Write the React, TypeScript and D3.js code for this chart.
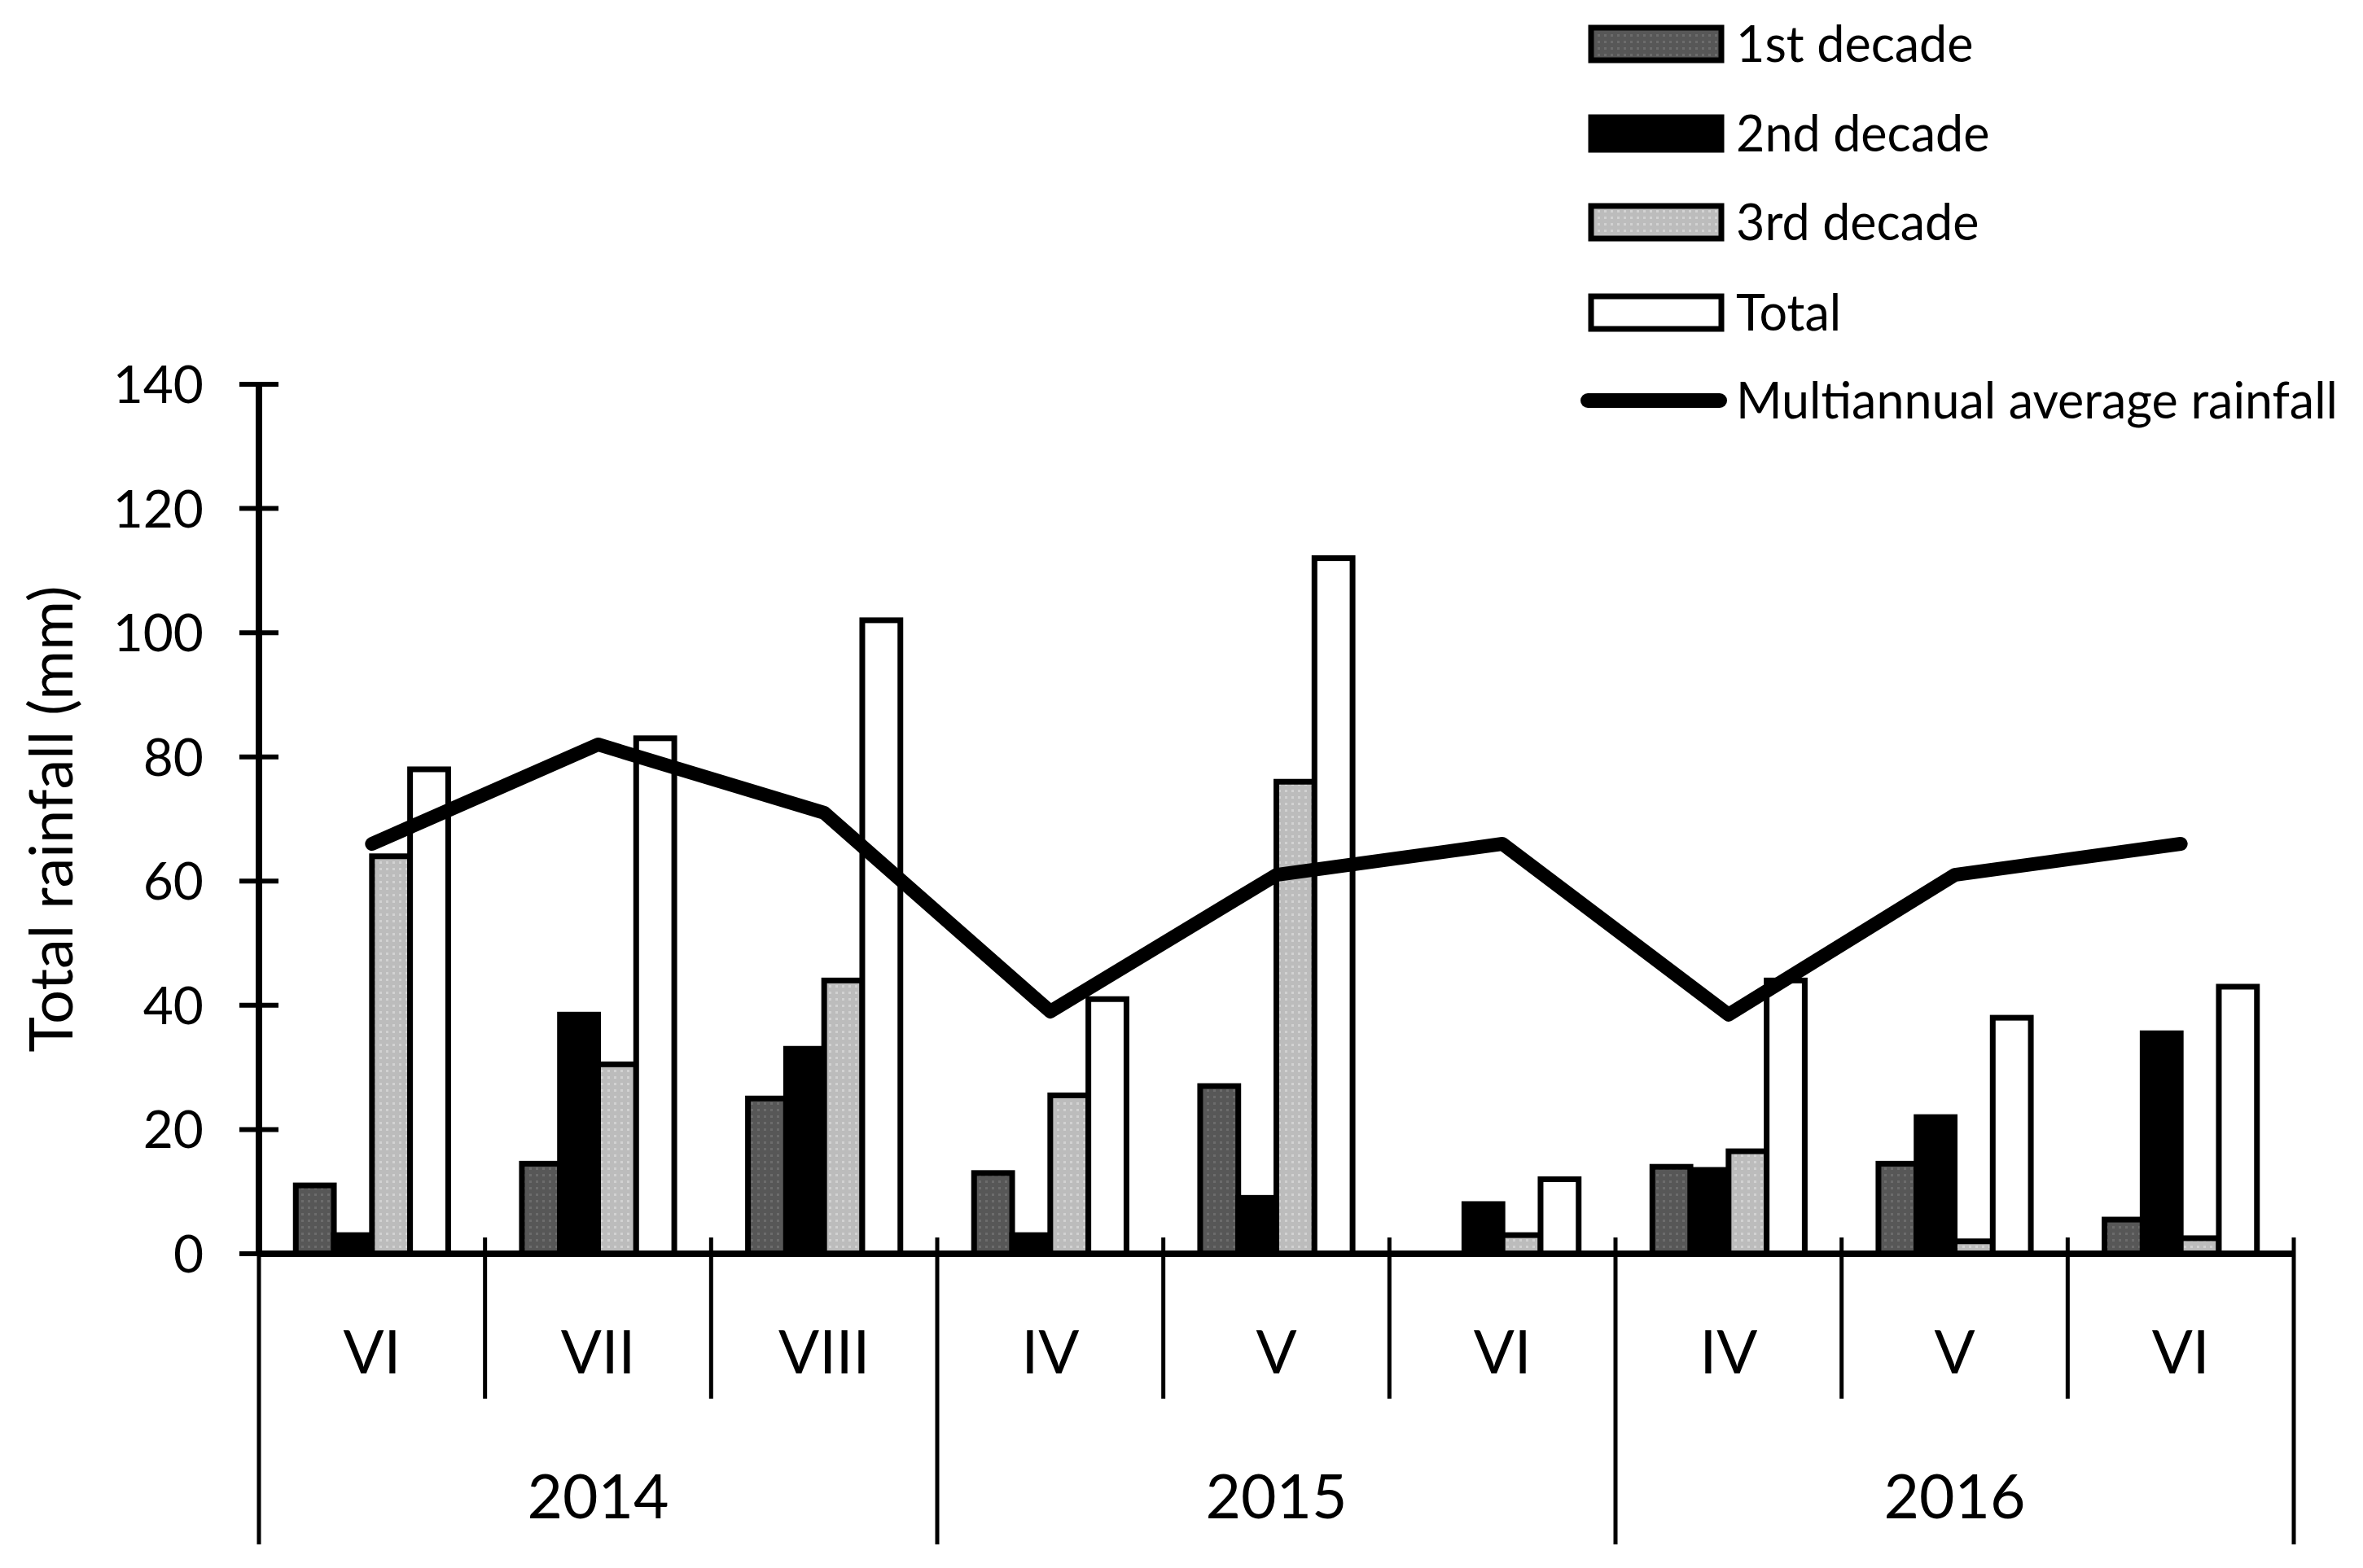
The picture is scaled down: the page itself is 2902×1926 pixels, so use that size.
import * as d3 from "d3";
import { useEffect, useRef } from "react";

// months shown on the category axis, grouped by year
const months = ["VI", "VII", "VIII", "IV", "V", "VI", "IV", "V", "VI"];
const years = ["2014", "2015", "2016"];

// rainfall (mm) per decade of the month
const firstDecade = [11, 14.5, 25, 13, 27, 0, 14, 14.5, 5.5];
const secondDecade = [3, 38.5, 33, 3, 9, 8, 13.5, 22, 35.5];
const thirdDecade = [64, 30.5, 44, 25.5, 76, 3, 16.5, 2, 2.5];
const totals = [78, 83, 102, 41, 112, 12, 44, 38, 43];
const multiannualAverage = [66, 82, 71, 39, 61, 66, 38.5, 61, 66];

const yTicks = [0, 20, 40, 60, 80, 100, 120, 140];
const seriesNames = ["1st decade", "2nd decade", "3rd decade", "Total"];
const lineName = "Multiannual average rainfall";

const FONT = "Lato, 'Open Sans', sans-serif";

const App = () => {
  const ref = useRef<SVGSVGElement | null>(null);

  useEffect(() => {
    const width = 2902;
    const height = 1926;
    const left = 318;
    const right = 2817;
    const zeroY = 1540;
    const topY = 472;

    const svg = d3.select(ref.current);
    svg.selectAll("*").remove();
    svg.attr("width", width).attr("height", height);

    // dotted fills like the original
    const defs = svg.append("defs");
    const addPattern = (id: string, base: string, dot: string) => {
      const p = defs
        .append("pattern")
        .attr("id", id)
        .attr("width", 8)
        .attr("height", 8)
        .attr("patternUnits", "userSpaceOnUse");
      p.append("rect").attr("width", 8).attr("height", 8).attr("fill", base);
      p.append("rect").attr("x", 2).attr("y", 2).attr("width", 3).attr("height", 3).attr("fill", dot);
    };
    addPattern("p1", "#575757", "#6c6c6c");
    addPattern("p3", "#bcbcbc", "#d2d2d2");

    const fills = ["url(#p1)", "#000000", "url(#p3)", "#ffffff"];
    const values = [firstDecade, secondDecade, thirdDecade, totals];

    const x = d3
      .scaleBand<number>()
      .domain(d3.range(months.length))
      .range([left, right])
      .padding(0);
    const bw = x.bandwidth();

    const x1 = d3
      .scaleBand<string>()
      .domain(seriesNames)
      .range([bw * 0.163, bw * 0.837])
      .padding(0);

    const y = d3.scaleLinear().domain([0, 140]).range([zeroY, topY]);

    // bars
    seriesNames.forEach((name, s) => {
      svg
        .append("g")
        .selectAll("rect")
        .data(values[s].map((v, i) => ({ v, i })).filter((d) => d.v > 0))
        .enter()
        .append("rect")
        .attr("x", (d) => (x(d.i) || 0) + (x1(name) || 0))
        .attr("y", (d) => y(d.v))
        .attr("width", x1.bandwidth())
        .attr("height", (d) => zeroY - y(d.v))
        .attr("fill", fills[s])
        .attr("stroke", "#000")
        .attr("stroke-width", 7);
    });

    // y axis
    svg
      .append("line")
      .attr("x1", left)
      .attr("x2", left)
      .attr("y1", y(140))
      .attr("y2", zeroY)
      .attr("stroke", "#000")
      .attr("stroke-width", 8);

    const yt = svg.append("g").selectAll("g").data(yTicks).enter().append("g");
    yt.append("line")
      .attr("x1", left - 24)
      .attr("x2", left + 24)
      .attr("y1", (d) => y(d))
      .attr("y2", (d) => y(d))
      .attr("stroke", "#000")
      .attr("stroke-width", 6);
    yt.append("text")
      .attr("x", 250)
      .attr("y", (d) => y(d))
      .attr("dy", "0.36em")
      .attr("text-anchor", "end")
      .attr("font-family", FONT)
      .attr("font-size", 64)
      .attr("fill", "#000")
      .text((d) => d);

    svg
      .append("text")
      .attr("transform", `translate(62, ${(zeroY + topY) / 2}) rotate(-90)`)
      .attr("text-anchor", "middle")
      .attr("dy", "0.36em")
      .attr("font-family", FONT)
      .attr("font-size", 74)
      .attr("fill", "#000")
      .text("Total rainfall (mm)");

    // x axis
    svg
      .append("line")
      .attr("x1", left)
      .attr("x2", right)
      .attr("y1", zeroY)
      .attr("y2", zeroY)
      .attr("stroke", "#000")
      .attr("stroke-width", 8);

    const bounds = d3.range(months.length + 1);
    svg
      .append("g")
      .selectAll("line")
      .data(bounds)
      .enter()
      .append("line")
      .attr("x1", (i) => left + i * bw)
      .attr("x2", (i) => left + i * bw)
      .attr("y1", (i) => (i === 0 ? zeroY : zeroY - 20))
      .attr("y2", (i) => (i % 3 === 0 ? 1897 : 1718))
      .attr("stroke", "#000")
      .attr("stroke-width", 5);

    svg
      .append("g")
      .selectAll("text")
      .data(months)
      .enter()
      .append("text")
      .attr("x", (_, i) => (x(i) || 0) + bw / 2)
      .attr("y", 1660)
      .attr("dy", "0.36em")
      .attr("text-anchor", "middle")
      .attr("font-family", FONT)
      .attr("font-size", 74)
      .attr("fill", "#000")
      .text((d) => d);

    svg
      .append("g")
      .selectAll("text")
      .data(years)
      .enter()
      .append("text")
      .attr("x", (_, i) => left + (i * 3 + 1.5) * bw)
      .attr("y", 1838)
      .attr("dy", "0.36em")
      .attr("text-anchor", "middle")
      .attr("font-family", FONT)
      .attr("font-size", 75)
      .attr("fill", "#000")
      .text((d) => d);

    // multiannual average line
    const line = d3
      .line<number>()
      .x((_, i) => (x(i) || 0) + bw / 2)
      .y((d) => y(d));
    svg
      .append("path")
      .attr("d", line(multiannualAverage))
      .attr("fill", "none")
      .attr("stroke", "#000")
      .attr("stroke-width", 17)
      .attr("stroke-linecap", "round")
      .attr("stroke-linejoin", "round");

    // legend
    const legendY = [54, 164, 273, 384, 492];
    const lg = svg.append("g");
    seriesNames.forEach((name, s) => {
      lg.append("rect")
        .attr("x", 1954)
        .attr("y", legendY[s] - 20)
        .attr("width", 160)
        .attr("height", 40)
        .attr("fill", fills[s])
        .attr("stroke", "#000")
        .attr("stroke-width", 7);
      lg.append("text")
        .attr("x", 2132)
        .attr("y", legendY[s])
        .attr("dy", "0.36em")
        .attr("font-family", FONT)
        .attr("font-size", 61)
        .attr("fill", "#000")
        .text(name);
    });
    lg.append("line")
      .attr("x1", 1950)
      .attr("x2", 2112)
      .attr("y1", legendY[4])
      .attr("y2", legendY[4])
      .attr("stroke", "#000")
      .attr("stroke-width", 18)
      .attr("stroke-linecap", "round");
    lg.append("text")
      .attr("x", 2132)
      .attr("y", legendY[4])
      .attr("dy", "0.36em")
      .attr("font-family", FONT)
      .attr("font-size", 61)
      .attr("fill", "#000")
      .text(lineName);
  }, []);

  return (
    <div style={{ background: "#fff" }}>
      <style>{"body{margin:0}"}</style>
      <svg ref={ref} style={{ display: "block" }}></svg>
    </div>
  );
};

export default App;
